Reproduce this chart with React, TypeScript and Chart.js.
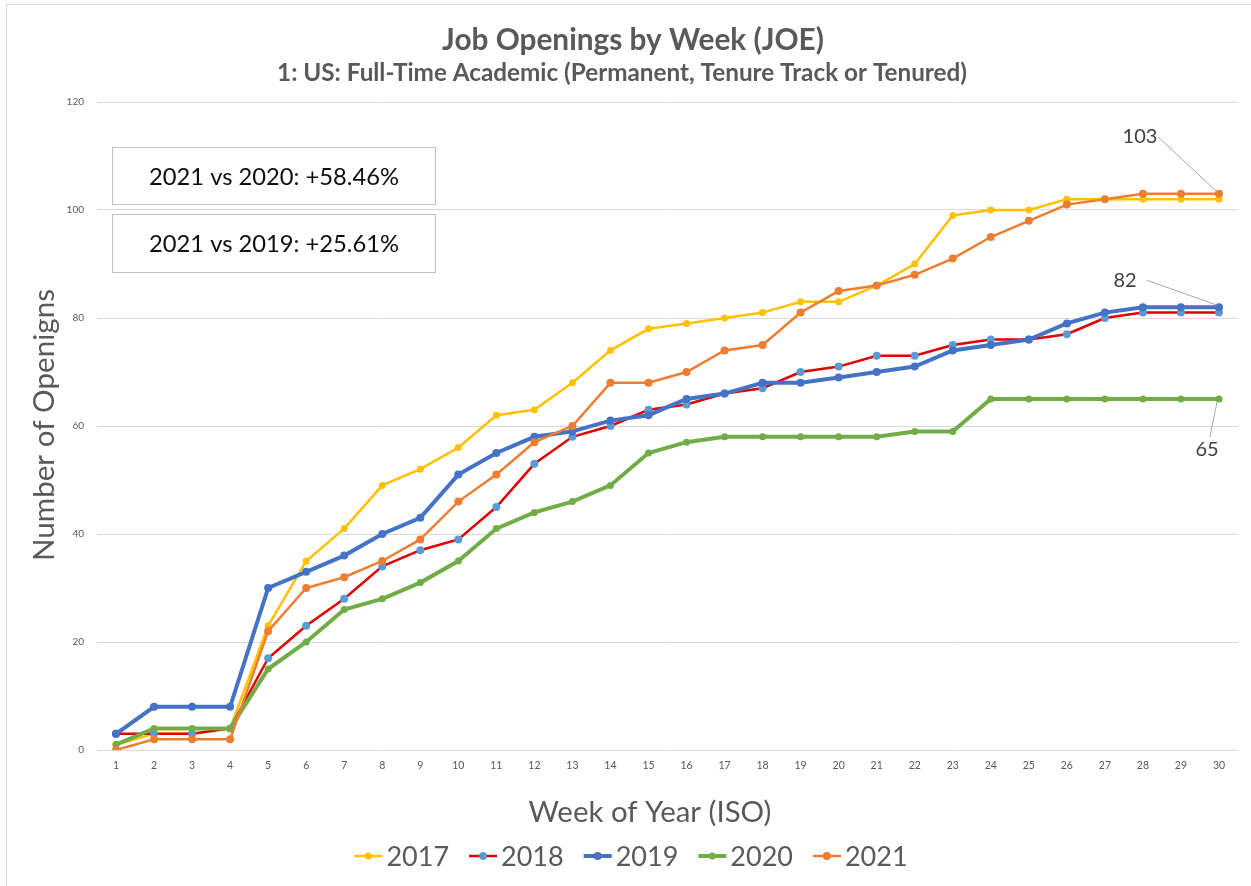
import React, { useEffect, useRef } from "react";
import { Chart, registerables } from "chart.js";

Chart.register(...registerables);

const weeks = ["1","2","3","4","5","6","7","8","9","10","11","12","13","14","15","16","17","18","19","20","21","22","23","24","25","26","27","28","29","30"];

const y2017 = [1,3,3,4,23,35,41,49,52,56,62,63,68,74,78,79,80,81,83,83,86,90,99,100,100,102,102,102,102,102];
const y2018 = [3,3,3,4,17,23,28,34,37,39,45,53,58,60,63,64,66,67,70,71,73,73,75,76,76,77,80,81,81,81];
const y2019 = [3,8,8,8,30,33,36,40,43,51,55,58,59,61,62,65,66,68,68,69,70,71,74,75,76,79,81,82,82,82];
const y2020 = [1,4,4,4,15,20,26,28,31,35,41,44,46,49,55,57,58,58,58,58,58,59,59,65,65,65,65,65,65,65];
const y2021 = [0,2,2,2,22,30,32,35,39,46,51,57,60,68,68,70,74,75,81,85,86,88,91,95,98,101,102,103,103,103];

const seriesNames = ["2017", "2018", "2019", "2020", "2021"];

const yTicksMin = 0;
const yTicksMax = 120;
const yTicksStep = 20;

const chartTitle = "Job Openings by Week (JOE)";
const chartSubtitle = "1: US: Full-Time Academic (Permanent, Tenure Track or Tenured)";
const xTitle = "Week of Year (ISO)";
const yTitle = "Number of Openigns";
const boxTexts = ["2021 vs 2020: +58.46%", "2021 vs 2019: +25.61%"];

const FONT = "Lato, 'DejaVu Sans', sans-serif";

const styles = [
  { line: "#FFC000", point: "#FFC000", width: 2.5, radius: 3.5 },
  { line: "#E00000", point: "#5B9BD5", width: 2.5, radius: 4 },
  { line: "#4472C4", point: "#4472C4", width: 4, radius: 4 },
  { line: "#70AD47", point: "#70AD47", width: 4, radius: 3.5 },
  { line: "#ED7D31", point: "#ED7D31", width: 2.5, radius: 4 },
];

// callouts: dataset index, point index, label offset, leader start
const callouts = [
  { ds: 4, idx: 29, dx: -79, dy: -57, lx: -61, ly: -57 },
  { ds: 2, idx: 29, dx: -94, dy: -27, lx: -72, ly: -27 },
  { ds: 3, idx: 29, dx: -12, dy: 51, lx: -9, ly: 38 },
];

function fitFont(ctx: CanvasRenderingContext2D, text: string, weight: string, target: number) {
  ctx.font = `${weight} 100px ${FONT}`;
  const w = ctx.measureText(text).width;
  const size = (100 * target) / w;
  ctx.font = `${weight} ${size.toFixed(2)}px ${FONT}`;
  return size;
}

const decorPlugin = {
  id: "decor",
  afterDatasetsDraw(chart: any) {
    const ctx: CanvasRenderingContext2D = chart.ctx;
    ctx.save();

    // outer border
    ctx.strokeStyle = "#D9D9D9";
    ctx.lineWidth = 1;
    ctx.strokeRect(6.5, 4.5, 1260, 900);

    // titles
    ctx.fillStyle = "#595959";
    ctx.textAlign = "center";
    ctx.textBaseline = "middle";
    fitFont(ctx, chartTitle, "bold", 382);
    ctx.fillText(chartTitle, 633, 40);
    fitFont(ctx, chartSubtitle, "bold", 690);
    ctx.fillText(chartSubtitle, 622, 73);

    // axis titles
    fitFont(ctx, xTitle, "normal", 243);
    ctx.fillText(xTitle, 650, 813);
    ctx.save();
    ctx.translate(44, 425);
    ctx.rotate(-Math.PI / 2);
    fitFont(ctx, yTitle, "normal", 272);
    ctx.fillText(yTitle, 0, 0);
    ctx.restore();

    // comparison boxes
    const boxes = [
      { x: 112.5, y: 147.5, w: 323, h: 57 },
      { x: 112.5, y: 214.5, w: 323, h: 58 },
    ];
    boxes.forEach((b, i) => {
      ctx.fillStyle = "#FFFFFF";
      ctx.fillRect(b.x, b.y, b.w, b.h);
      ctx.strokeStyle = "#BFBFBF";
      ctx.lineWidth = 1;
      ctx.strokeRect(b.x, b.y, b.w, b.h);
      ctx.fillStyle = "#0D0D0D";
      fitFont(ctx, boxTexts[i], "normal", 250);
      ctx.fillText(boxTexts[i], b.x + b.w / 2, b.y + b.h / 2 + 1);
    });

    // callouts
    callouts.forEach((c) => {
      const meta = chart.getDatasetMeta(c.ds);
      const pt = meta.data[c.idx];
      const value = chart.data.datasets[c.ds].data[c.idx];
      const px = pt.x;
      const py = pt.y;
      ctx.strokeStyle = "#A6A6A6";
      ctx.lineWidth = 1;
      ctx.beginPath();
      ctx.moveTo(px + c.lx, py + c.ly);
      ctx.lineTo(px - 2, py + (c.ly > 0 ? 3 : -2));
      ctx.stroke();
      ctx.fillStyle = "#404040";
      ctx.font = `normal 20px ${FONT}`;
      ctx.textAlign = "center";
      ctx.textBaseline = "middle";
      ctx.fillText(String(value), px + c.dx, py + c.dy);
    });

    // legend
    ctx.font = `normal 27px ${FONT}`;
    const markerW = 28;
    const gap = 4;
    const itemGap = 20;
    const widths = seriesNames.map((n) => markerW + gap + ctx.measureText(n).width);
    const total = widths.reduce((a, b) => a + b, 0) + itemGap * (seriesNames.length - 1);
    let x = 631 - total / 2;
    const ly = 856;
    seriesNames.forEach((n, i) => {
      const s = styles[i];
      ctx.strokeStyle = s.line;
      ctx.lineWidth = s.width;
      ctx.beginPath();
      ctx.moveTo(x, ly);
      ctx.lineTo(x + markerW, ly);
      ctx.stroke();
      ctx.fillStyle = s.point;
      ctx.beginPath();
      ctx.arc(x + markerW / 2, ly, s.radius, 0, Math.PI * 2);
      ctx.fill();
      ctx.fillStyle = "#595959";
      ctx.textAlign = "left";
      ctx.textBaseline = "middle";
      ctx.fillText(n, x + markerW + gap, ly + 1);
      x += widths[i] + itemGap;
    });

    ctx.restore();
  },
};

export default function App() {
  const ref = useRef<HTMLCanvasElement | null>(null);

  useEffect(() => {
    if (!ref.current) return;
    const all = [y2017, y2018, y2019, y2020, y2021];
    const chart = new Chart(ref.current, {
      type: "line",
      data: {
        labels: weeks,
        datasets: all.map((d, i) => ({
          label: seriesNames[i],
          data: d,
          borderColor: styles[i].line,
          backgroundColor: styles[i].point,
          pointBackgroundColor: styles[i].point,
          pointBorderColor: styles[i].point,
          pointRadius: styles[i].radius,
          pointBorderWidth: 0,
          borderWidth: styles[i].width,
          tension: 0,
          fill: false,
          order: 5 - i,
        })),
      },
      options: {
        responsive: false,
        animation: false,
        layout: { padding: { left: 0, right: 13, top: 102, bottom: 0 } },
        plugins: {
          legend: { display: false },
          title: { display: false },
          tooltip: { enabled: false },
        },
        scales: {
          x: {
            type: "category",
            offset: true,
            grid: { display: false, drawTicks: false },
            border: { display: false },
            ticks: {
              color: "#595959",
              font: { family: FONT, size: 10.5 },
              padding: 9,
              maxRotation: 0,
              autoSkip: false,
            },
            afterFit: (s: any) => {
              s.height = 136;
            },
          },
          y: {
            min: yTicksMin,
            max: yTicksMax,
            ticks: {
              stepSize: yTicksStep,
              color: "#595959",
              font: { family: FONT, size: 10 },
              padding: 13,
            },
            grid: { color: "#D9D9D9", lineWidth: 1, drawTicks: false },
            border: { display: false },
            afterFit: (s: any) => {
              s.width = 97;
            },
          },
        },
      },
      plugins: [decorPlugin],
    });
    return () => chart.destroy();
  }, []);

  return (
    <div style={{ position: "absolute", left: 0, top: 0, width: 1251, height: 886, background: "#FFFFFF" }}>
      <canvas ref={ref} width={1251} height={886} style={{ display: "block" }} />
    </div>
  );
}
